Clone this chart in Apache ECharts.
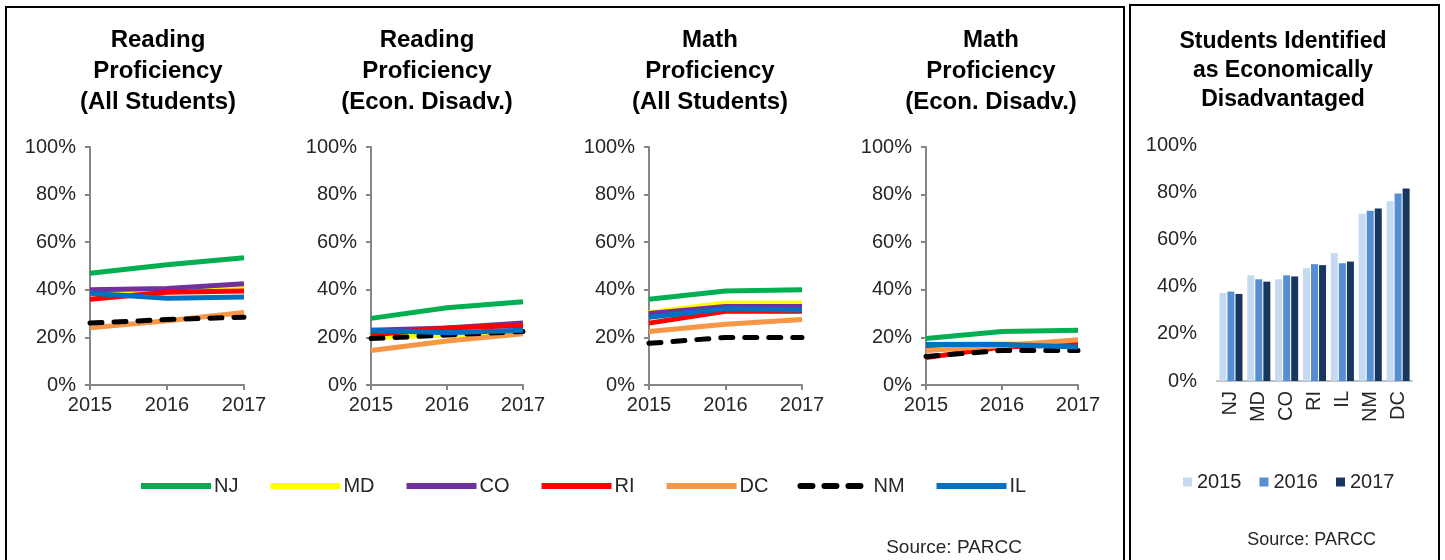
<!DOCTYPE html>
<html>
<head>
<meta charset="utf-8">
<script src="https://cdn.jsdelivr.net/npm/echarts@6/dist/echarts.min.js"></script>
<style>
  html, body { margin: 0; padding: 0; background: #fff; }
  #main { width: 1445px; height: 560px; }
</style>
</head>
<body>
<div id="main"></div>
<script>
const years = ['2015', '2016', '2017'];
const states = ['NJ', 'MD', 'CO', 'RI', 'DC', 'NM', 'IL'];
const stateColors = ['#00B050', '#FFFF00', '#7030A0', '#FF0000', '#F79646', '#000000', '#0070C0'];

// proficiency per state (same order as states), 2015..2017
const readingAll = [
  [47, 50.5, 53.5],
  [39, 40, 41],
  [40, 40.5, 42.5],
  [36, 39, 39.5],
  [24, 27, 30.5],
  [26, 27.5, 28.5],
  [38.5, 36.5, 37]
];
const readingEcon = [
  [28, 32.5, 35],
  [20, 21, 22],
  [23, 24, 26],
  [21, 24, 25],
  [14.5, 18.5, 21.5],
  [19.5, 21, 22.5],
  [23, 22, 23]
];
const mathAll = [
  [36, 39.5, 40],
  [30.5, 34.5, 34.5],
  [30, 33, 33],
  [26, 31, 31],
  [22.5, 25.5, 27.5],
  [17.5, 20, 20],
  [28.5, 32, 31.5]
];
const mathEcon = [
  [19.5, 22.5, 23],
  [17, 17.5, 17.5],
  [16.5, 17, 17],
  [11.5, 16, 17],
  [14.5, 16.5, 19],
  [12, 14.5, 14.5],
  [17, 17, 16]
];

// share of students economically disadvantaged
const barStates = ['NJ', 'MD', 'CO', 'RI', 'IL', 'NM', 'DC'];
const econ2015 = [37.3, 44.8, 43.1, 47.8, 54.2, 70.9, 76.2];
const econ2016 = [37.9, 43.1, 44.8, 49.5, 49.9, 72.1, 79.5];
const econ2017 = [36.9, 42.1, 44.3, 49.1, 50.6, 73.1, 81.6];
const barColors = ['#C5D9F1', '#558ED5', '#17375E'];

const panels = [
  { title: 'Reading\nProficiency\n(All Students)', data: readingAll, left: 90, width: 154, cx: 158 },
  { title: 'Reading\nProficiency\n(Econ. Disadv.)', data: readingEcon, left: 371, width: 152, cx: 427 },
  { title: 'Math\nProficiency\n(All Students)', data: mathAll, left: 649, width: 153, cx: 710 },
  { title: 'Math\nProficiency\n(Econ. Disadv.)', data: mathEcon, left: 926, width: 152, cx: 991 }
];

const font = 'Liberation Sans, Arial, sans-serif';
const axisGrey = '#868686';
const labelColor = '#262626';

const grids = [], xAxes = [], yAxes = [], series = [], graphics = [];

panels.forEach((p, i) => {
  grids.push({ left: p.left, width: p.width, top: 147, height: 238 });
  xAxes.push({
    gridIndex: i, type: 'category', data: years, boundaryGap: false,
    axisLine: { lineStyle: { color: axisGrey, width: 2 } },
    axisTick: { show: true, length: 5, lineStyle: { color: axisGrey, width: 2 } },
    axisLabel: { fontSize: 20, color: labelColor, fontFamily: font, margin: 10, interval: 0 }
  });
  yAxes.push({
    gridIndex: i, type: 'value', min: 0, max: 100, interval: 20,
    axisLine: { show: true, lineStyle: { color: axisGrey, width: 2 } },
    axisTick: { show: true, length: 5, lineStyle: { color: axisGrey, width: 2 } },
    splitLine: { show: false },
    axisLabel: { formatter: '{value}%', fontSize: 20, color: labelColor, fontFamily: font, margin: 14 }
  });
  states.forEach((s, k) => {
    series.push({
      name: s, type: 'line', xAxisIndex: i, yAxisIndex: i,
      data: p.data[k], symbol: 'none', silent: true,
      itemStyle: { color: stateColors[k] },
      lineStyle: s === 'NM'
        ? { color: '#000', width: 5, type: [12, 12], cap: 'round' }
        : { color: stateColors[k], width: 5 }
    });
  });
  graphics.push({
    type: 'text', x: p.cx, y: 25,
    style: { text: p.title, font: 'bold 24px ' + font, fill: '#000', textAlign: 'center', lineHeight: 31 }
  });
});

// bar chart
grids.push({ left: 1217, width: 195, top: 145, height: 236 });
xAxes.push({
  gridIndex: 4, type: 'category', data: barStates,
  axisLine: { lineStyle: { color: '#BFBFBF', width: 2 } },
  axisTick: { show: false },
  axisLabel: { rotate: 90, fontSize: 20, color: labelColor, fontFamily: font, margin: 10, interval: 0 }
});
yAxes.push({
  gridIndex: 4, type: 'value', min: 0, max: 100, interval: 20,
  axisLine: { show: false }, axisTick: { show: false }, splitLine: { show: false },
  axisLabel: { formatter: '{value}%', fontSize: 20, color: labelColor, fontFamily: font, margin: 20 }
});
[econ2015, econ2016, econ2017].forEach((d, k) => {
  series.push({
    name: years[k], type: 'bar', xAxisIndex: 4, yAxisIndex: 4, data: d,
    barWidth: 7, barGap: '15%', silent: true,
    itemStyle: { color: barColors[k] }
  });
});

graphics.push(
  { type: 'text', x: 1283, y: 27,
    style: { text: 'Students Identified\nas Economically\nDisadvantaged', font: 'bold 23px ' + font, fill: '#000', textAlign: 'center', lineHeight: 29 } },
  { type: 'text', x: 1022, y: 548,
    style: { text: 'Source: PARCC', font: '19px ' + font, fill: labelColor, textAlign: 'right', textVerticalAlign: 'middle' } },
  { type: 'text', x: 1376, y: 540,
    style: { text: 'Source: PARCC', font: '18px ' + font, fill: labelColor, textAlign: 'right', textVerticalAlign: 'middle' } },
  { type: 'rect', shape: { x: 6, y: 7, width: 1118, height: 570 },
    style: { fill: 'none', stroke: '#000', lineWidth: 2 }, silent: true },
  { type: 'rect', shape: { x: 1130, y: 5, width: 309, height: 570 },
    style: { fill: 'none', stroke: '#000', lineWidth: 2 }, silent: true }
);

const chart = echarts.init(document.getElementById('main'));
chart.setOption({
  animation: false,
  backgroundColor: '#fff',
  grid: grids,
  xAxis: xAxes,
  yAxis: yAxes,
  legend: [
    {
      data: states, left: 133, top: 471, itemWidth: 70, itemHeight: 8, itemGap: 29,
      lineStyle: { width: 6 },
      itemStyle: { opacity: 0 },
      textStyle: { fontSize: 20, color: labelColor, fontFamily: font, padding: [0, 0, 0, -2] },
      selectedMode: false
    },
    {
      data: years, left: 1178, top: 467, icon: 'rect', itemWidth: 9, itemHeight: 9, itemGap: 18,
      textStyle: { fontSize: 20, color: labelColor, fontFamily: font },
      selectedMode: false
    }
  ],
  graphic: graphics,
  series: series
});
</script>
</body>
</html>
